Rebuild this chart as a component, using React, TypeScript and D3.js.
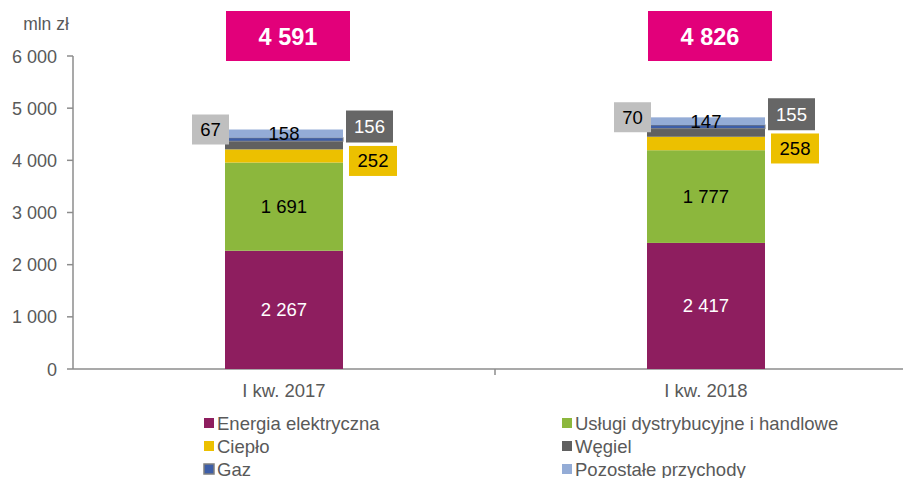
import React from "react";
import * as d3 from "d3";

// categories and series (mln zł)
const categories = ["I kw. 2017", "I kw. 2018"];
const totals = [4591, 4826];
const seriesNames = [
  "Energia elektryczna",
  "Usługi dystrybucyjne i handlowe",
  "Ciepło",
  "Węgiel",
  "Gaz",
  "Pozostałe przychody",
];
const energia = [2267, 2417];
const uslugi = [1691, 1777];
const cieplo = [252, 258];
const wegiel = [156, 155];
const gaz = [67, 70];
const pozostale = [158, 147];
const yTicks = [0, 1000, 2000, 3000, 4000, 5000, 6000];

const colors = ["#8e1e5f", "#8cb73d", "#ecc000", "#606060", "#3d5ea8", "#94acd6"];
const FONT = "'Liberation Sans', Arial, sans-serif";
const GREY = "#595959";

const fmt = (v: number) => d3.format(",")(v).replace(/,/g, " ");

export default function App() {
  const width = 903;
  const height = 478;
  const margin = { left: 73, right: -14, top: 56, bottom: 109 };

  const x = d3
    .scaleBand()
    .domain(categories)
    .range([margin.left, width - margin.right])
    .paddingInner(0)
    .paddingOuter(0);
  const y = d3
    .scaleLinear()
    .domain([0, 6000])
    .range([height - margin.bottom, margin.top]);

  const rows = categories.map((c, i) => ({
    cat: c,
    energia: energia[i],
    uslugi: uslugi[i],
    cieplo: cieplo[i],
    wegiel: wegiel[i],
    gaz: gaz[i],
    pozostale: pozostale[i],
  }));
  const keys = ["energia", "uslugi", "cieplo", "wegiel", "gaz", "pozostale"];
  const stacked = d3.stack<any>().keys(keys)(rows);

  const barW = 118;
  const bx = (c: string) => (x(c) as number) + x.bandwidth() / 2 - barW / 2;

  const legendCols = [204, 562];
  const legendRows = [423, 446, 469];

  return (
    <svg
      width={width}
      height={height}
      style={{ position: "absolute", left: 0, top: 0, fontFamily: FONT }}
    >
      <rect width={width} height={height} fill="#fff" />
      <text x={46} y={30} fontSize={17.5} fill={GREY} textAnchor="middle">
        mln zł
      </text>

      {/* y axis */}
      <line x1={margin.left} x2={margin.left} y1={y(6000)} y2={y(0)} stroke="#8c8c8c" strokeWidth={1.5} />
      {yTicks.map((t) => (
        <g key={t}>
          <line x1={margin.left - 6} x2={margin.left} y1={y(t)} y2={y(t)} stroke="#8c8c8c" strokeWidth={1.5} />
          <text x={margin.left - 16} y={y(t) + 6.5} fontSize={18} fill={GREY} textAnchor="end">
            {fmt(t)}
          </text>
        </g>
      ))}

      {/* x axis */}
      <line x1={margin.left} x2={width} y1={y(0)} y2={y(0)} stroke="#8c8c8c" strokeWidth={1.5} />
      {categories.map((c) => (
        <g key={c}>
          <line
            x1={(x(c) as number) + x.bandwidth()}
            x2={(x(c) as number) + x.bandwidth()}
            y1={y(0)}
            y2={y(0) + 6}
            stroke="#8c8c8c"
            strokeWidth={1.5}
          />
          <text x={(x(c) as number) + x.bandwidth() / 2} y={y(0) + 28} fontSize={18.5} fill={GREY} textAnchor="middle">
            {c}
          </text>
        </g>
      ))}

      {/* stacked bars */}
      {stacked.map((layer, li) =>
        layer.map((d, i) => (
          <rect
            key={li + "-" + i}
            x={bx(categories[i])}
            width={barW}
            y={y(d[1])}
            height={y(d[0]) - y(d[1])}
            fill={colors[li]}
            stroke={keys[li] === "gaz" ? "#7f7f7f" : "none"}
            strokeWidth={1}
          />
        ))
      )}

      {/* labels */}
      {categories.map((c, i) => {
        const left = bx(c);
        const right = left + barW;
        const mid = left + barW / 2;
        const s = (k: number) => stacked[k][i];
        const top = y(totals[i]);
        return (
          <g key={c}>
            <text x={mid} y={(y(s(0)[0]) + y(s(0)[1])) / 2 + 6.5} fontSize={18.5} fill="#fff" textAnchor="middle">
              {fmt(energia[i])}
            </text>
            <text x={mid} y={(y(s(1)[0]) + y(s(1)[1])) / 2 + 6.5} fontSize={18.5} fill="#000" textAnchor="middle">
              {fmt(uslugi[i])}
            </text>
            <text x={mid} y={(y(s(5)[0]) + y(s(5)[1])) / 2 + 6.5} fontSize={18.5} fill="#000" textAnchor="middle">
              {fmt(pozostale[i])}
            </text>
            {/* ciepło box */}
            <rect x={right + 6} y={(y(s(2)[0]) + y(s(2)[1])) / 2 + 5 - 15} width={48} height={30} fill={colors[2]} />
            <text x={right + 30} y={(y(s(2)[0]) + y(s(2)[1])) / 2 + 5 + 6.5} fontSize={18.5} fill="#000" textAnchor="middle">
              {fmt(cieplo[i])}
            </text>
            {/* węgiel box */}
            <rect x={right + 3} y={top - 3 - 16} width={47} height={32} fill="#666666" />
            <text x={right + 26.5} y={top - 3 + 6.5} fontSize={18.5} fill="#fff" textAnchor="middle">
              {fmt(wegiel[i])}
            </text>
            {/* gaz box */}
            <rect x={left - 33} y={top - 15} width={37} height={30} fill="#bfbfbf" />
            <text x={left - 14.5} y={top + 6.5} fontSize={18.5} fill="#000" textAnchor="middle">
              {fmt(gaz[i])}
            </text>
            {/* total */}
            <rect x={mid - 58} y={11} width={124} height={50} fill="#e2007a" />
            <text x={mid + 4} y={45} fontSize={23.5} fontWeight="bold" fill="#fff" textAnchor="middle">
              {fmt(totals[i])}
            </text>
          </g>
        );
      })}

      {/* legend */}
      {seriesNames.map((n, i) => {
        const lx = legendCols[i % 2];
        const ly = legendRows[Math.floor(i / 2)];
        return (
          <g key={n}>
            <rect
              x={lx}
              y={ly - 5}
              width={10}
              height={10}
              fill={colors[i]}
              stroke={i === 4 ? "#7f7f7f" : "none"}
              strokeWidth={1.5}
            />
            <text x={lx + 13} y={ly + 6.5} fontSize={18.5} fill={GREY}>
              {n}
            </text>
          </g>
        );
      })}
    </svg>
  );
}
